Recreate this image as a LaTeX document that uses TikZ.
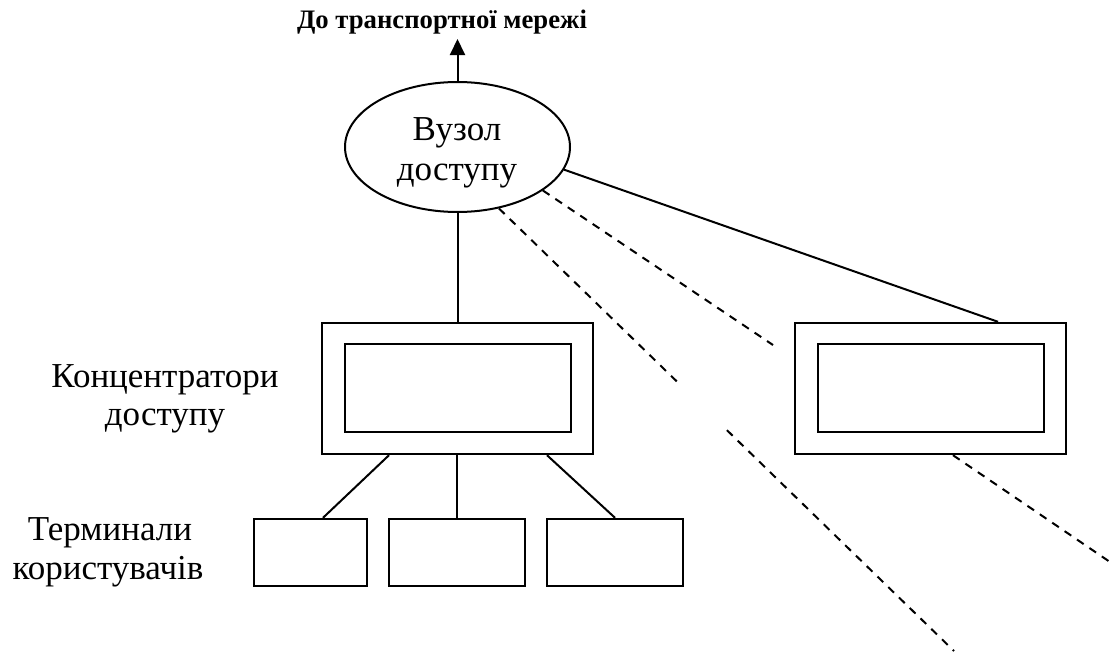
\documentclass[tikz,border=0pt]{standalone}
\usepackage{fontspec}
\setmainfont{Liberation Serif}
\usetikzlibrary{shapes.geometric,arrows.meta,calc}

\tikzset{
  wire/.style={line width=2pt},
  dashwire/.style={line width=2pt, dash pattern=on 8pt off 7pt},
  framebox/.style={draw, line width=2.4pt, rectangle, inner sep=0pt},
  termbox/.style={draw, line width=2.4pt, rectangle, inner sep=0pt,
                  minimum height=67pt},
  captext/.style={align=center, inner sep=0pt,
                  font=\fontsize{35}{40}\selectfont},
}

\begin{document}
\begin{tikzpicture}[x=1pt, y=-1pt]
\useasboundingbox (0,0) rectangle (1112,653);

% heading and the uplink arrow
\node[inner sep=0pt, anchor=base, font=\fontsize{26.7}{30}\selectfont\bfseries]
  (title) at (442,28) {До транспортної мережі};
\coordinate (up) at (457.5,39);

% access node
\node[draw, ellipse, line width=2pt, minimum width=225pt, minimum height=130pt,
      inner sep=0pt] (vz) at (457.5,147) {};
\node[captext, anchor=base] (vz1) at (457,140) {Вузол};
\node[captext, anchor=base] (vz2) at (457,180) {доступу};

% concentrators (outer frame with inner frame)
\node[framebox, minimum width=271pt, minimum height=131pt] (c1) at (457.5,388.5) {};
\node[framebox, minimum width=226pt, minimum height=88pt]  (c1in) at (458,388) {};
\node[framebox, minimum width=271pt, minimum height=131pt] (c2) at (930.5,388.5) {};
\node[framebox, minimum width=226pt, minimum height=88pt]  (c2in) at (931,388) {};

% user terminals
\node[termbox, minimum width=113pt] (t1) at (310.5,552.5) {};
\node[termbox, minimum width=136pt] (t2) at (457,552.5) {};
\node[termbox, minimum width=136pt] (t3) at (615,552.5) {};

% side captions
\node[captext, anchor=base] (cap1a) at (165,387) {Концентратори};
\node[captext, anchor=base] (cap1b) at (165,425) {доступу};
\node[captext, anchor=base] (cap2a) at (110,540) {Терминали};
\node[captext, anchor=base] (cap2b) at (108,579) {користувачів};

% free ends of the dashed links
\coordinate (d1end) at (954,651);
\coordinate (d2end) at (773,345);
\coordinate (d3end) at (1110,562);

% uplink
\draw[line width=2pt, -{Triangle[width=15pt,length=16pt]}] (vz.north) -- (up);

% solid links
\draw[wire] (vz.south) -- (c1.north);
\draw[wire] (vz.-12) -- ($(c2.north)+(67.5,0)$);
\draw[wire] ($(c1.south)+(-68.5,0)$) -- ($(t1.north)+(12.5,0)$);
\draw[wire] (c1.south -| t2.north) -- (t2.north);
\draw[wire] ($(c1.south)+(89.5,0)$) -- (t3.north);

% dashed links to further concentrators
\draw[dashwire] (vz.-56) -- ($(vz.-56)!0.396!(d1end)$);
\draw[dashwire] ($(vz.-56)!0.501!(d1end)$) -- (d1end);
\draw[dashwire] (vz.-27) -- (d2end);
\draw[dashwire] ($(c2.south)+(22.5,0)$) -- (d3end);
\end{tikzpicture}
\end{document}
